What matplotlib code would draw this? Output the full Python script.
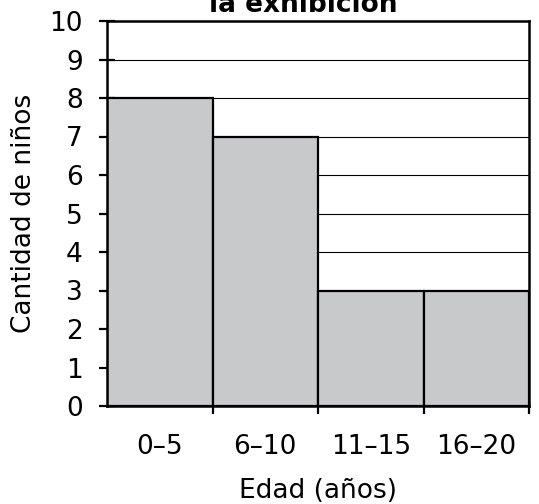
import matplotlib.pyplot as plt
import numpy as np

# Data
age_groups = ["0–5", "6–10", "11–15", "16–20"]
counts = [8, 7, 3, 3]
y_ticks = list(range(0, 11))

bar_color = "#c8c9cb"

plt.rcParams["font.family"] = ["DejaVu Sans"]

fig = plt.figure(figsize=(5.39, 5.04), dpi=100)
ax = fig.add_axes([107 / 539, 1 - 406 / 504, 422 / 539, 385 / 504])

x = np.arange(len(counts))
ax.bar(x, counts, width=1.0, align="edge", color=bar_color,
       edgecolor="black", linewidth=1.6, zorder=3)

ax.set_xlim(0, len(counts))
ax.set_ylim(0, 10)

# horizontal grid lines behind bars
ax.set_yticks(y_ticks)
ax.yaxis.grid(True, color="black", linewidth=0.8, zorder=0)
ax.set_axisbelow(True)

# bar boundaries as major ticks, labels centred on bars
ax.set_xticks(np.arange(1, len(counts) + 1))
ax.set_xticklabels([])
ax.set_xticks(x + 0.5, minor=True)
ax.set_xticklabels(age_groups, minor=True)
ax.tick_params(axis="x", which="major", direction="out", length=6, width=1.6)
ax.tick_params(axis="x", which="minor", length=0, pad=20, labelsize=19)
ax.tick_params(axis="y", direction="inout", length=11, width=1.6, labelsize=19, pad=12)

for s in ax.spines.values():
    s.set_linewidth(1.8)
    s.set_zorder(4)

ax.set_xlabel("Edad (años)", fontsize=19, labelpad=13)
ax.set_ylabel("Cantidad de niños", fontsize=19, labelpad=9)

# title cut off at the top edge in the reference
fig.text(303 / 539, 1 - 12 / 504, "la exhibición", fontsize=19,
         fontweight="bold", ha="center", va="baseline")

fig.savefig("out.png", dpi=100)
